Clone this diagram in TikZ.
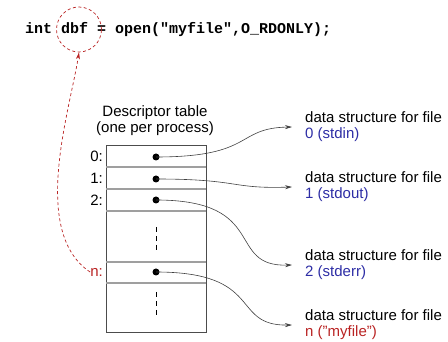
\documentclass[tikz,border=0pt]{standalone}
\usepackage{fontspec}
\setmainfont{Liberation Sans}
\newfontfamily\codefont{Liberation Mono}
\usetikzlibrary{arrows.meta}
\definecolor{myblue}{RGB}{45,45,165}
\definecolor{myred}{RGB}{185,35,35}
\tikzset{
  lbl/.style={font=\fontsize{15}{16}\selectfont, inner sep=0pt, align=left, anchor=west},
  dot/.style={circle, fill=black, inner sep=0pt, minimum size=7pt},
  rowline/.style={draw=gray!75, line width=1.1pt},
  conn/.style={draw=black!75, line width=0.6pt, -{Stealth[length=7pt,width=4pt]}},
  reddash/.style={draw=myred, line width=0.7pt, dash pattern=on 3pt off 2.5pt},
}
\begin{document}
\begin{tikzpicture}[x=1pt,y=-1pt]
\useasboundingbox (0,0) rectangle (448,342);
% code line
\node[anchor=west, inner sep=0pt, font=\codefont\bfseries\fontsize{15}{16}\selectfont] (code) at (25,30) {int dbf = open("myfile",O\_RDONLY);};
\node[reddash, circle, minimum size=45pt, inner sep=0pt] (circ) at (79,29.5) {};
% table
\node[draw=gray!60!black, line width=1pt, minimum width=100pt, minimum height=187pt, inner sep=0pt, anchor=north west] (tab) at (106,145) {};
\foreach \yy in {167,189,211,262,283} \draw[rowline] (106,\yy) -- (206,\yy);
\node[lbl, anchor=center, align=center] (title) at (155,121) {Descriptor table\\(one per process)};
% index labels
\node[lbl, anchor=east] (i0) at (103,156) {0:};
\node[lbl, anchor=east] (i1) at (103,178) {1:};
\node[lbl, anchor=east] (i2) at (103,200) {2:};
\node[lbl, anchor=east, text=myred] (in) at (103,272) {n:};
% dots
\node[dot] (p0) at (156,157) {};
\node[dot] (p1) at (156,179) {};
\node[dot] (p2) at (156,200) {};
\node[dot] (pn) at (156,272) {};
% vertical dashes
\draw[dashed, line width=0.7pt, dash pattern=on 5pt off 4pt] (156,227) -- (156,250);
\draw[dashed, line width=0.7pt, dash pattern=on 5pt off 4pt] (156,292) -- (156,317);
% right labels
\node[lbl] (d0) at (305,127) {data structure for file\\\textcolor{myblue}{0 (stdin)}};
\node[lbl] (d1) at (305,187) {data structure for file\\\textcolor{myblue}{1 (stdout)}};
\node[lbl] (d2) at (305,265) {data structure for file\\\textcolor{myblue}{2 (stderr)}};
\node[lbl] (dn) at (305,325) {data structure for file\\\textcolor{myred}{n ("myfile")}};
\coordinate (t0) at ([xshift=-13pt]d0.west);
\coordinate (t1) at ([xshift=-13pt]d1.west);
\coordinate (t2) at ([xshift=-13pt]d2.west);
\coordinate (tn) at ([xshift=-13pt]dn.west);
% connectors
\draw[conn] (p0.center) .. controls (255,157) and (235,128) .. (t0);
\draw[conn] (p1.center) .. controls (240,179) and (230,189) .. (t1);
\draw[conn] (p2.center) .. controls (270,200) and (225,267) .. (t2);
\draw[conn] (pn.center) .. controls (265,272) and (230,326) .. (tn);
% red dashed arrow
\draw[reddash, -{Stealth[length=7pt,width=4pt]}] (in.west) .. controls (30,232) and (70,110) .. (circ.south);
\end{tikzpicture}
\end{document}
